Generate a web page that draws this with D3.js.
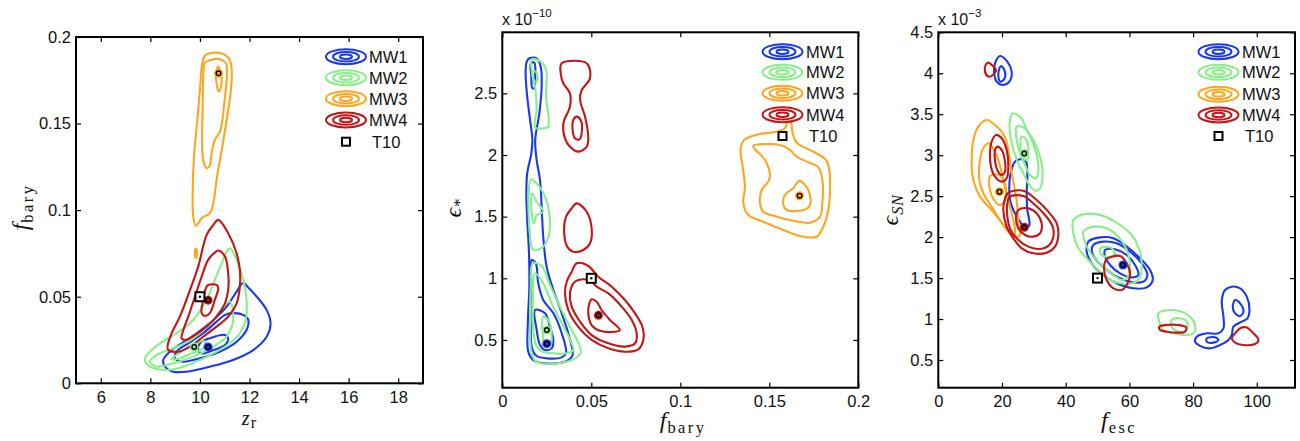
<!DOCTYPE html>
<html>
<head>
<meta charset="utf-8">
<script src="https://cdn.jsdelivr.net/npm/d3@7"></script>
<style>
  body { margin: 0; background: #fff; }
  svg { display: block; }
</style>
</head>
<body>
<svg id="chart" width="1300" height="441"></svg>
<script>
// ---------------------------------------------------------------
// Posterior contours of model parameters for four Milky-Way-like
// halos, with peak positions and the T10 reference point.
// Each series is a list of closed contour rings, [x, y] pairs.
// ---------------------------------------------------------------
const seriesNames = ["MW1", "MW2", "MW3", "MW4"];
const seriesColors = ["#1838f2", "#88ee88", "#ffa51f", "#c51515"];

// ---- Panel 1: z_r vs f_bary ----
const zrTicks = [6, 8, 10, 12, 14, 16, 18];
const fbaryTicksP1 = [0, 0.05, 0.1, 0.15, 0.2];

const zrFbaryMW1 = [
  [[11.75,0.0581],[11.92,0.0558],[12.29,0.0501],[12.69,0.0424],[12.85,0.0347],[12.69,0.0269],[12.15,0.0192],[11.34,0.0135],[10.4,0.0096],[9.46,0.0067],[8.92,0.0067],[8.59,0.0096],[8.52,0.0135],[8.79,0.0183],[9.26,0.0231],[9.87,0.0289],[10.54,0.0366],[11.08,0.0443],[11.48,0.053]],
  [[11.34,0.0405],[11.75,0.0395],[11.95,0.0366],[11.88,0.0308],[11.48,0.024],[10.81,0.0183],[10.0,0.0145],[9.33,0.0125],[9.0,0.0145],[9.06,0.0183],[9.53,0.0231],[10.13,0.0289],[10.67,0.0356],[11.01,0.0395]],
  [[10.0,0.0231],[10.4,0.026],[11.01,0.0279],[11.14,0.026],[11.01,0.0221],[10.54,0.0192],[10.07,0.0173],[9.93,0.0192]]
];
const zrFbaryMW2 = [
  [[11.21,0.078],[11.48,0.0713],[11.75,0.0597],[11.88,0.0482],[11.85,0.0366],[11.61,0.0289],[11.21,0.0231],[10.67,0.0183],[10.0,0.0135],[9.33,0.0096],[8.66,0.0077],[7.98,0.0096],[7.78,0.0135],[7.92,0.0173],[8.39,0.0231],[9.06,0.0289],[9.73,0.0366],[10.27,0.0482],[10.6,0.0597],[10.88,0.0694],[11.08,0.0761]],
  [[11.21,0.0472],[11.34,0.0366],[11.08,0.0269],[10.54,0.0212],[9.73,0.0154],[8.92,0.0116],[8.25,0.0096],[7.98,0.0125],[8.25,0.0164],[8.92,0.0202],[9.73,0.026],[10.54,0.0366],[11.01,0.0453]],
  [[8.86,0.0139],[9.26,0.0183],[9.8,0.0231],[10.2,0.0241],[10.13,0.0202],[9.66,0.0173],[9.19,0.0145]]
];
const zrFbaryMW3 = [
  [[9.84,0.0909],[9.73,0.0963],[9.71,0.1117],[9.76,0.131],[9.87,0.1483],[10.0,0.1695],[10.1,0.185],[10.22,0.1895],[10.81,0.1908],[11.18,0.1875],[11.28,0.1811],[11.25,0.1695],[11.08,0.1522],[10.88,0.1349],[10.67,0.1175],[10.54,0.104],[10.4,0.0983],[10.07,0.0954]],
  [[10.27,0.1243],[10.13,0.129],[10.09,0.1406],[10.11,0.1599],[10.14,0.1792],[10.2,0.1852],[10.4,0.1866],[10.81,0.1872],[11.05,0.1848],[11.09,0.1792],[11.0,0.1638],[10.81,0.1454],[10.6,0.1406],[10.47,0.133],[10.38,0.1252]],
  [[10.74,0.183],[10.83,0.1801],[10.88,0.1753],[10.81,0.1695],[10.75,0.1686],[10.67,0.1734],[10.65,0.1792]],
  [[9.82,0.0725],[9.86,0.0725],[9.86,0.0775],[9.82,0.0775]]
];
const zrFbaryMW4 = [
  [[10.74,0.0944],[11.14,0.0867],[11.48,0.0751],[11.61,0.0655],[11.61,0.0558],[11.48,0.0462],[11.14,0.0385],[10.67,0.0327],[10.13,0.0269],[9.6,0.0212],[9.13,0.0183],[8.72,0.0192],[8.70,0.0221],[8.86,0.0289],[9.19,0.0385],[9.6,0.0539],[9.93,0.0674],[10.27,0.0857],[10.54,0.0915]],
  [[10.74,0.0767],[11.01,0.0732],[11.14,0.0636],[11.14,0.0539],[11.01,0.0462],[10.67,0.0385],[10.27,0.0327],[9.8,0.0279],[9.4,0.025],[9.26,0.026],[9.33,0.0308],[9.53,0.0385],[9.8,0.0501],[10.07,0.0616],[10.33,0.0713],[10.6,0.0755]],
  [[10.33,0.0568],[10.67,0.0568],[10.74,0.0549],[10.6,0.0482],[10.4,0.0405],[10.2,0.0389],[10.07,0.0405],[10.13,0.0482],[10.24,0.0549]]
];
const zrFbaryPeaks = [[10.33,0.021],[9.77,0.021],[10.75,0.179],[10.33,0.048]];
const zrFbaryT10 = [10, 0.05];

// ---- Panel 2: f_bary vs epsilon_* (in units of 1e-10) ----
const fbaryTicksP2 = [0, 0.05, 0.1, 0.15, 0.2];
const epsStarTicks = [0.5, 1, 1.5, 2, 2.5];

const fbaryEpsStarMW1 = [
  [[0.0152,2.784],[0.0193,2.784],[0.0216,2.716],[0.0221,2.554],[0.0208,2.338],[0.0185,2.122],[0.0193,1.959],[0.0212,1.797],[0.0221,1.581],[0.023,1.337],[0.0249,1.094],[0.0287,0.905],[0.0334,0.716],[0.0376,0.526],[0.0395,0.378],[0.0371,0.337],[0.0306,0.311],[0.023,0.311],[0.0174,0.337],[0.0146,0.405],[0.0144,0.662],[0.0152,0.932],[0.015,1.203],[0.014,1.473],[0.0135,1.689],[0.014,1.852],[0.0163,2.014],[0.0169,2.122],[0.0156,2.284],[0.014,2.473],[0.0131,2.662],[0.0137,2.757]],
  [[0.0161,2.744],[0.018,2.749],[0.0185,2.635],[0.018,2.541],[0.0169,2.541],[0.0163,2.635]],
  [[0.0165,1.148],[0.0188,1.122],[0.0202,0.959],[0.023,0.824],[0.0287,0.716],[0.0334,0.554],[0.0358,0.392],[0.0334,0.359],[0.0249,0.351],[0.0193,0.37],[0.0167,0.432],[0.016,0.662],[0.016,0.932]],
  [[0.0184,0.743],[0.024,0.716],[0.0268,0.607],[0.0287,0.5],[0.0277,0.432],[0.024,0.419],[0.0212,0.459],[0.0193,0.581]]
];
const fbaryEpsStarMW2 = [
  [[0.0165,2.776],[0.0216,2.757],[0.0246,2.689],[0.0246,2.473],[0.0258,2.23],[0.023,2.216],[0.0184,2.224],[0.0193,2.365],[0.0184,2.554],[0.0165,2.689]],
  [[0.0172,2.68],[0.0192,2.67],[0.0195,2.6],[0.0178,2.6]],
  [[0.016,1.803],[0.0193,1.77],[0.024,1.662],[0.0264,1.527],[0.0264,1.365],[0.023,1.256],[0.0174,1.23],[0.0152,1.419],[0.0148,1.635]],
  [[0.0167,1.689],[0.0193,1.621],[0.023,1.54],[0.0193,1.513],[0.0178,1.446],[0.0165,1.527]],
  [[0.0171,1.122],[0.0221,1.1],[0.0264,0.959],[0.0315,0.797],[0.038,0.607],[0.0433,0.459],[0.044,0.392],[0.0399,0.343],[0.0315,0.311],[0.024,0.305],[0.0184,0.332],[0.016,0.432],[0.0156,0.662],[0.016,0.932]],
  [[0.0184,1.041],[0.023,0.959],[0.0277,0.797],[0.0334,0.635],[0.039,0.473],[0.0399,0.419],[0.0362,0.392],[0.0287,0.392],[0.023,0.405],[0.0193,0.446],[0.0174,0.581],[0.0171,0.797]],
  [[0.023,0.689],[0.0258,0.662],[0.0277,0.554],[0.0268,0.459],[0.024,0.459],[0.0227,0.554]]
];
const fbaryEpsStarMW3 = [
  [[0.1601,2.262],[0.162,2.268],[0.1631,2.176],[0.1657,2.095],[0.1747,2.027],[0.1819,1.959],[0.1837,1.878],[0.1841,1.716],[0.1831,1.554],[0.1807,1.432],[0.1766,1.337],[0.1672,1.343],[0.1579,1.392],[0.1466,1.459],[0.1382,1.513],[0.1354,1.608],[0.1363,1.743],[0.135,1.905],[0.1339,2.054],[0.1363,2.127],[0.1448,2.17],[0.1542,2.189],[0.1588,2.217]],
  [[0.141,2.073],[0.1476,1.959],[0.1504,1.838],[0.1494,1.784],[0.1457,1.716],[0.1448,1.608],[0.1466,1.54],[0.1542,1.5],[0.1635,1.467],[0.1729,1.451],[0.1785,1.5],[0.1798,1.608],[0.1798,1.797],[0.1776,1.9],[0.171,1.946],[0.1654,1.986],[0.1616,2.041],[0.156,2.081],[0.1485,2.089]],
  [[0.1669,1.792],[0.1719,1.716],[0.1729,1.594],[0.1691,1.554],[0.1598,1.554],[0.1579,1.594],[0.1588,1.676],[0.1635,1.73]]
];
const fbaryEpsStarMW4 = [
  [[0.0334,2.744],[0.0474,2.744],[0.0493,2.622],[0.0446,2.527],[0.0437,2.446],[0.0465,2.311],[0.0483,2.148],[0.0474,2.067],[0.0427,2.027],[0.038,2.067],[0.0352,2.135],[0.0343,2.257],[0.038,2.392],[0.038,2.5],[0.0343,2.581],[0.0328,2.662]],
  [[0.0418,2.311],[0.044,2.284],[0.0446,2.176],[0.0433,2.127],[0.0408,2.135],[0.0395,2.203],[0.0399,2.284]],
  [[0.0418,1.608],[0.0474,1.54],[0.0502,1.406],[0.0493,1.284],[0.0455,1.23],[0.0399,1.216],[0.0365,1.256],[0.0347,1.392],[0.0358,1.5],[0.039,1.568]],
  [[0.0418,1.122],[0.0483,1.1],[0.0539,1.013],[0.0615,0.932],[0.0689,0.824],[0.0746,0.716],[0.0787,0.607],[0.0792,0.5],[0.0764,0.424],[0.0689,0.405],[0.0596,0.432],[0.0502,0.5],[0.0427,0.607],[0.0371,0.743],[0.0352,0.878],[0.0362,0.973],[0.039,1.054]],
  [[0.0427,0.986],[0.0493,0.981],[0.053,0.932],[0.0596,0.878],[0.0671,0.770],[0.0727,0.662],[0.0755,0.554],[0.0746,0.473],[0.0689,0.446],[0.0596,0.473],[0.0502,0.54],[0.0437,0.648],[0.039,0.770],[0.038,0.878],[0.0399,0.959]],
  [[0.0502,0.830],[0.053,0.810],[0.0558,0.743],[0.0605,0.662],[0.0661,0.581],[0.0633,0.567],[0.0549,0.575],[0.0502,0.621],[0.0483,0.716],[0.0489,0.797]]
];
const fbaryEpsStarPeaks = [[0.025,0.47],[0.025,0.58],[0.167,1.67],[0.054,0.70]];
const fbaryEpsStarT10 = [0.05, 1.0];

// ---- Panel 3: f_esc vs epsilon_SN (in units of 1e-3) ----
const fescTicks = [0, 20, 40, 60, 80, 100];
const epsSnTicks = [0.5, 1, 1.5, 2, 2.5, 3, 3.5, 4, 4.5];

const fescEpsSnMW1 = [
  [[19.37,4.211],[21.68,4.142],[23.04,4.02],[22.3,3.898],[20.21,3.857],[18.32,3.898],[17.49,4.02],[17.8,4.122]],
  [[19.69,4.089],[20.94,4.02],[20.63,3.926],[19.37,3.898],[18.85,3.999]],
  [[24.08,2.921],[26.18,2.95],[27.54,2.921],[27.96,2.738],[27.75,2.535],[27.96,2.331],[28.59,2.148],[27.23,2.107],[25.65,2.189],[23.56,2.331],[22.51,2.453],[22.3,2.616],[22.72,2.779]],
  [[47.12,1.945],[50.79,1.997],[54.97,1.985],[59.16,1.884],[63.35,1.741],[66.49,1.599],[67.33,1.477],[65.45,1.387],[61.26,1.375],[56.02,1.436],[51.83,1.538],[48.17,1.68],[46.6,1.822]],
  [[48.69,1.904],[51.83,1.945],[56.02,1.924],[60.21,1.822],[63.87,1.68],[65.65,1.538],[64.4,1.456],[60.21,1.456],[56.02,1.517],[52.36,1.619],[49.21,1.741],[48.17,1.843]],
  [[52.36,1.843],[55.5,1.851],[59.16,1.782],[61.78,1.66],[62.83,1.538],[60.73,1.509],[57.07,1.558],[53.93,1.66],[52.36,1.761]],
  [[92.15,1.395],[94.76,1.375],[96.86,1.273],[97.7,1.11],[97.07,1.009],[95.29,0.968],[92.67,0.907],[92.15,0.805],[91.1,0.744],[88.48,0.683],[85.34,0.642],[82.72,0.663],[80.63,0.724],[81.15,0.785],[84.29,0.826],[87.96,0.826],[89.53,0.887],[89.53,1.029],[89.01,1.232],[90.05,1.355]],
  [[93.19,1.232],[94.76,1.192],[95.81,1.09],[94.76,1.037],[93.19,1.07],[92.46,1.151]],
  [[84.29,0.764],[86.91,0.777],[87.96,0.744],[86.39,0.712],[84.29,0.724]]
];
const fescEpsSnMW2 = [
  [[23.35,3.511],[26.18,3.45],[27.75,3.308],[29.84,3.186],[31.94,2.982],[32.77,2.779],[31.94,2.596],[30.37,2.567],[28.27,2.657],[26.7,2.779],[25.13,2.901],[23.56,3.064],[22.51,3.267],[22.51,3.43]],
  [[24.61,3.348],[27.23,3.328],[29.32,3.186],[30.89,3.003],[31.41,2.819],[30.68,2.718],[28.8,2.758],[27.23,2.881],[25.65,3.023],[24.61,3.186]],
  [[26.18,3.226],[27.75,3.186],[28.27,3.064],[27.96,2.941],[26.7,2.962],[25.86,3.064]],
  [[42.41,2.209],[46.07,2.282],[51.83,2.258],[57.07,2.148],[60.73,2.026],[63.14,1.843],[63.87,1.639],[63.14,1.497],[60.73,1.436],[57.07,1.436],[53.93,1.477],[50.79,1.578],[47.12,1.721],[43.98,1.863],[42.41,2.046]],
  [[45.55,2.067],[48.69,2.128],[52.88,2.107],[56.54,2.006],[59.16,1.843],[60.21,1.66],[59.69,1.517],[57.59,1.477],[54.97,1.538],[51.83,1.639],[48.69,1.761],[46.39,1.904]],
  [[50.79,1.863],[53.93,1.875],[55.5,1.802],[53.93,1.761],[51.31,1.782]],
  [[69.11,1.07],[72.77,1.11],[76.44,1.09],[79.06,1.029],[80.63,0.927],[80.1,0.826],[77.49,0.805],[73.82,0.826],[70.68,0.866],[69.42,0.968]],
  [[73.3,0.988],[75.92,1.009],[78.01,0.968],[78.01,0.866],[75.39,0.846],[73.3,0.907]]
];
const fescEpsSnMW3 = [
  [[15.18,3.43],[17.8,3.369],[19.9,3.287],[21.26,3.186],[22.3,2.982],[23.04,2.779],[24.08,2.575],[24.82,2.372],[25.24,2.128],[25.65,2.026],[24.08,2.006],[20.94,2.128],[16.75,2.331],[13.09,2.494],[11.0,2.697],[10.47,2.901],[11.0,3.186],[12.57,3.349]],
  [[15.71,3.145],[17.49,3.064],[19.16,2.901],[20.42,2.697],[21.68,2.494],[23.04,2.29],[24.08,2.087],[23.77,2.006],[21.99,2.067],[19.37,2.209],[16.75,2.372],[14.14,2.535],[12.88,2.697],[13.09,2.941],[14.14,3.084]],
  [[16.23,2.746],[19.16,2.758],[20.94,2.657],[21.26,2.514],[20.42,2.413],[19.16,2.392],[17.49,2.453],[16.23,2.575]]
];
const fescEpsSnMW4 = [
  [[15.71,4.13],[17.28,4.081],[18.12,4.04],[17.07,3.979],[15.71,3.959],[14.66,4.02],[14.87,4.101]],
  [[18.12,3.247],[19.9,3.206],[21.47,3.064],[21.99,2.86],[21.47,2.718],[19.9,2.677],[17.8,2.738],[16.54,2.86],[16.23,3.023],[16.75,3.165]],
  [[18.53,3.104],[19.9,3.064],[20.94,2.921],[20.94,2.799],[19.9,2.758],[18.53,2.819],[17.8,2.941],[17.8,3.064]],
  [[21.99,2.543],[26.7,2.567],[30.89,2.453],[34.55,2.311],[37.17,2.168],[37.7,2.026],[36.65,1.884],[34.03,1.81],[29.84,1.802],[26.18,1.863],[23.56,1.985],[21.47,2.128],[20.42,2.331],[20.94,2.474]],
  [[22.51,2.494],[26.7,2.502],[30.37,2.392],[33.51,2.27],[35.92,2.128],[36.13,2.006],[34.87,1.904],[31.94,1.855],[28.27,1.884],[25.13,1.965],[22.72,2.087],[21.68,2.25],[21.68,2.413]],
  [[25.13,2.331],[28.27,2.351],[30.89,2.29],[32.46,2.168],[31.94,2.046],[29.84,2.006],[27.23,2.026],[25.13,2.107],[24.4,2.229]],
  [[53.93,1.753],[57.07,1.77],[59.16,1.68],[60.21,1.538],[59.16,1.416],[57.59,1.355],[54.97,1.375],[52.88,1.477],[52.04,1.619],[52.67,1.721]],
  [[69.42,0.907],[71.73,0.927],[75.39,0.927],[77.8,0.899],[77.49,0.846],[74.87,0.834],[71.73,0.846],[69.63,0.866]],
  [[94.76,0.887],[96.65,0.899],[98.95,0.826],[100.52,0.744],[99.48,0.695],[95.81,0.683],[93.19,0.712],[92.15,0.764],[93.19,0.826]]
];
const fescEpsSnPeaks = [[58,1.66],[27,3.02],[19.2,2.555],[27,2.12]];
const fescEpsSnT10 = [50, 1.5];

// ---------------------------------------------------------------
const sansFont = "'Liberation Sans', Arial, Helvetica, sans-serif";
const serifFont = "'Liberation Serif', 'Times New Roman', 'DejaVu Serif', serif";
const tickFontSize = 16.5;
const legendFontSize = 16.5;

const panels = [
  {
    box: {left: 76, right: 423, top: 37, bottom: 383.3},
    xDomain: [5, 19], yDomain: [0, 0.2],
    xTicks: zrTicks, yTicks: fbaryTicksP1,
    contours: [zrFbaryMW1, zrFbaryMW2, zrFbaryMW3, zrFbaryMW4],
    peaks: zrFbaryPeaks, t10: zrFbaryT10,
    legend: {iconX: 346, textX: 369, rows: [56.7, 77.7, 98.7, 120, 141.7]},
    xLabel: {x: 249, y: 425, size: 20, main: "z", sub: "r", subItalic: false, spacing: 0, subDy: 3},
    yLabel: {x: 28, y: 207, size: 24, main: "f", sub: "bary", subItalic: false, spacing: 2.4, subDy: 5},
    exponent: null
  },
  {
    box: {left: 502.3, right: 858.3, top: 32.3, bottom: 387.7},
    xDomain: [0, 0.2], yDomain: [0.113, 2.995],
    xTicks: fbaryTicksP2, yTicks: epsStarTicks,
    contours: [fbaryEpsStarMW1, fbaryEpsStarMW2, fbaryEpsStarMW3, fbaryEpsStarMW4],
    peaks: fbaryEpsStarPeaks, t10: fbaryEpsStarT10,
    legend: {iconX: 782.5, textX: 806, rows: [51.7, 72.3, 93.3, 114.7, 136]},
    xLabel: {x: 683, y: 428, size: 24, main: "f", sub: "bary", subItalic: false, spacing: 2.4, subDy: 5},
    yLabel: {x: 461, y: 208, size: 24, main: "\u03F5", sub: "*", subItalic: false, spacing: 0, subDy: 4},
    exponent: {x: 502, y: 25, power: "\u221210"}
  },
  {
    box: {left: 938.3, right: 1295, top: 32.3, bottom: 387.7},
    xDomain: [0, 112], yDomain: [0.162, 4.5],
    xTicks: fescTicks, yTicks: epsSnTicks,
    contours: [fescEpsSnMW1, fescEpsSnMW2, fescEpsSnMW3, fescEpsSnMW4],
    peaks: fescEpsSnPeaks, t10: fescEpsSnT10,
    legend: {iconX: 1218.5, textX: 1242, rows: [51.7, 72.3, 94.3, 115, 136]},
    xLabel: {x: 1119, y: 428, size: 24, main: "f", sub: "esc", subItalic: false, spacing: 2.4, subDy: 5},
    yLabel: {x: 898, y: 210, size: 24, main: "\u03F5", sub: "SN", subItalic: true, spacing: 0.5, subDy: 5},
    exponent: {x: 938, y: 25, power: "\u22123"}
  }
];

const svg = d3.select("#chart");
const defs = svg.append("defs");

function mathLabel(sel, lab, rotate) {
  const t = sel.append("text")
    .attr("text-anchor", "middle")
    .attr("font-family", serifFont)
    .attr("fill", "#111");
  if (rotate) t.attr("transform", `translate(${lab.x},${lab.y}) rotate(-90)`);
  else t.attr("x", lab.x).attr("y", lab.y);
  t.append("tspan").attr("font-style", "italic").attr("font-size", lab.size).text(lab.main);
  t.append("tspan")
    .attr("font-size", 16.5)
    .attr("dy", lab.subDy)
    .attr("dx", 1)
    .attr("letter-spacing", lab.spacing)
    .attr("font-style", lab.subItalic ? "italic" : "normal")
    .text(lab.sub);
}

panels.forEach((p, idx) => {
  const x = d3.scaleLinear().domain(p.xDomain).range([p.box.left, p.box.right]);
  const y = d3.scaleLinear().domain(p.yDomain).range([p.box.bottom, p.box.top]);
  const clipId = "plot-clip-" + idx;
  defs.append("clipPath").attr("id", clipId).append("rect")
    .attr("x", p.box.left).attr("y", p.box.top)
    .attr("width", p.box.right - p.box.left)
    .attr("height", p.box.bottom - p.box.top);

  const g = svg.append("g");
  const plot = g.append("g").attr("clip-path", `url(#${clipId})`);

  // contour rings
  const ring = d3.line()
    .x(d => x(d[0])).y(d => y(d[1]))
    .curve(d3.curveCatmullRomClosed.alpha(0.5));
  p.contours.forEach((rings, s) => {
    plot.append("g").selectAll("path").data(rings).join("path")
      .attr("d", ring)
      .attr("fill", "none")
      .attr("stroke", seriesColors[s])
      .attr("stroke-width", 2.1)
      .attr("stroke-linejoin", "round");
  });

  // peak markers
  p.peaks.forEach((pk, s) => {
    plot.append("circle").attr("cx", x(pk[0])).attr("cy", y(pk[1]))
      .attr("r", 4.5).attr("fill", seriesColors[s]);
    plot.append("circle").attr("cx", x(pk[0])).attr("cy", y(pk[1]))
      .attr("r", 2.3).attr("fill", "none").attr("stroke", "#000").attr("stroke-width", 1.4);
  });

  // T10 reference point
  plot.append("rect")
    .attr("x", x(p.t10[0]) - 4.5).attr("y", y(p.t10[1]) - 4.5)
    .attr("width", 9).attr("height", 9)
    .attr("fill", "#fff").attr("stroke", "#000").attr("stroke-width", 2);
  plot.append("circle").attr("cx", x(p.t10[0])).attr("cy", y(p.t10[1]))
    .attr("r", 1.2).attr("fill", "#000");

  // axes (ticks inward on all four sides)
  const fmt = d => String(d);
  const axes = [
    g.append("g").attr("transform", `translate(0,${p.box.bottom})`)
      .call(d3.axisBottom(x).tickValues(p.xTicks).tickSize(-5).tickPadding(8).tickFormat(fmt)),
    g.append("g").attr("transform", `translate(0,${p.box.top})`)
      .call(d3.axisTop(x).tickValues(p.xTicks).tickSize(-5).tickFormat("")),
    g.append("g").attr("transform", `translate(${p.box.left},0)`)
      .call(d3.axisLeft(y).tickValues(p.yTicks).tickSize(-5).tickPadding(5).tickFormat(fmt)),
    g.append("g").attr("transform", `translate(${p.box.right},0)`)
      .call(d3.axisRight(y).tickValues(p.yTicks).tickSize(-5).tickFormat(""))
  ];
  axes.forEach(a => {
    a.select(".domain").remove();
    a.selectAll(".tick line").attr("stroke", "#000").attr("stroke-width", 1.2);
    a.selectAll(".tick text").attr("font-family", sansFont).attr("font-size", tickFontSize).attr("fill", "#111");
  });

  // frame
  g.append("rect")
    .attr("x", p.box.left).attr("y", p.box.top)
    .attr("width", p.box.right - p.box.left)
    .attr("height", p.box.bottom - p.box.top)
    .attr("fill", "none").attr("stroke", "#000").attr("stroke-width", 2);

  // axis titles
  mathLabel(g, p.xLabel, false);
  mathLabel(g, p.yLabel, true);

  // exponent multiplier
  if (p.exponent) {
    const e = g.append("text").attr("x", p.exponent.x).attr("y", p.exponent.y)
      .attr("font-family", sansFont).attr("font-size", 16).attr("fill", "#111");
    e.append("tspan").text("x 10");
    e.append("tspan").attr("font-size", 11.5).attr("dy", -8).text(p.exponent.power);
  }

  // legend
  const lg = g.append("g");
  seriesNames.forEach((name, s) => {
    const cy = p.legend.rows[s];
    [[20, 7.5], [13, 4.8], [6, 2.2]].forEach(([rx, ry]) => {
      lg.append("ellipse").attr("cx", p.legend.iconX).attr("cy", cy)
        .attr("rx", rx).attr("ry", ry)
        .attr("fill", "none").attr("stroke", seriesColors[s]).attr("stroke-width", 2);
    });
    lg.append("text").attr("x", p.legend.textX).attr("y", cy).attr("dy", "0.36em")
      .attr("font-family", sansFont).attr("font-size", legendFontSize).attr("fill", "#111").text(name);
  });
  const ty = p.legend.rows[4];
  lg.append("rect").attr("x", p.legend.iconX - 4).attr("y", ty - 4)
    .attr("width", 8).attr("height", 8)
    .attr("fill", "#fff").attr("stroke", "#000").attr("stroke-width", 2);
  lg.append("text").attr("x", p.legend.textX + 3).attr("y", ty).attr("dy", "0.36em")
    .attr("font-family", sansFont).attr("font-size", legendFontSize).attr("fill", "#111").text("T10");
});
</script>
</body>
</html>
